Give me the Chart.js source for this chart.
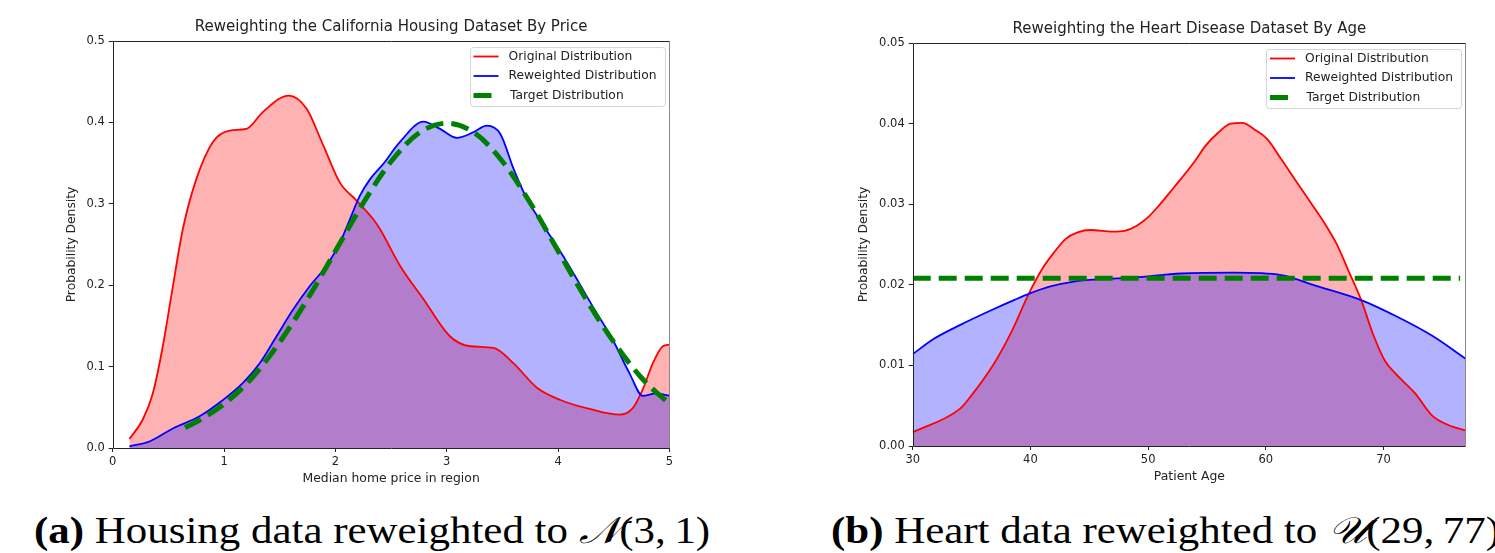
<!DOCTYPE html>
<html><head><meta charset="utf-8">
<script src="https://cdn.jsdelivr.net/npm/chart.js@4.4.0/dist/chart.umd.min.js"></script>
<style>
html,body{margin:0;padding:0;background:#fff;width:1495px;height:553px;overflow:hidden;}
.wrap{position:absolute;top:0;}
.cap{position:absolute;font-family:'Liberation Serif','DejaVu Serif',serif;font-size:37px;line-height:37px;white-space:nowrap;color:#000;transform:scaleX(1.16);transform-origin:0 0;}
.cal{font-style:italic;}
</style></head><body>
<div class="wrap" style="left:0;width:750px;height:500px"><canvas id="c1" width="750" height="500"></canvas></div>
<div class="wrap" style="left:750px;width:745px;height:500px"><canvas id="c2" width="745" height="500"></canvas></div>
<div class="cap" id="capA" style="left:34px;top:512px"><b>(a)</b> Housing data reweighted to <span class="cal">𝒩</span>(3,&#8201;1)</div>
<div class="cap" id="capB" style="left:831px;top:512px"><b>(b)</b> Heart data reweighted to <span class="cal">𝒰</span>(29,&#8201;77)</div>
<script>
// ---------- Housing (left) ----------
const housingTitle = 'Reweighting the California Housing Dataset By Price';
const housingXLabel = 'Median home price in region';
const housingTicksX = [0, 1, 2, 3, 4, 5];
const housingTickLabelsX = ['0', '1', '2', '3', '4', '5'];
const housingTicksY = [0, 0.1, 0.2, 0.3, 0.4, 0.5];
const housingTickLabelsY = ['0.0', '0.1', '0.2', '0.3', '0.4', '0.5'];
const housingOrigX = [0.15,0.27,0.36,0.45,0.53,0.63,0.75,0.90,1.05,1.20,1.35,1.58,1.74,1.89,2.04,2.19,2.34,2.40,2.58,2.79,3.03,3.21,3.42,3.60,3.81,4.02,4.31,4.55,4.67,4.76,4.85,4.94,5.0];
const housingOrigY = [0.011,0.035,0.067,0.125,0.19,0.269,0.330,0.376,0.390,0.392,0.413,0.433,0.417,0.372,0.326,0.304,0.281,0.269,0.224,0.183,0.137,0.125,0.123,0.104,0.074,0.059,0.047,0.041,0.049,0.072,0.104,0.125,0.127];
const housingReX = [0.15,0.33,0.54,0.78,0.99,1.17,1.32,1.47,1.62,1.77,1.92,2.04,2.13,2.22,2.31,2.43,2.58,2.79,2.94,3.09,3.24,3.36,3.48,3.60,3.72,3.87,4.08,4.31,4.49,4.64,4.76,4.88,5.0];
const housingReY = [0.002,0.008,0.024,0.039,0.059,0.080,0.104,0.137,0.170,0.199,0.224,0.252,0.281,0.310,0.330,0.349,0.376,0.401,0.392,0.381,0.388,0.396,0.386,0.343,0.306,0.273,0.228,0.174,0.133,0.092,0.064,0.067,0.064];
const housingTargetX = [0.65,0.75,1.0,1.25,1.5,1.75,2.0,2.25,2.5,2.75,3.0,3.25,3.5,3.75,4.0,4.25,4.5,4.75,5.0];
const housingTargetY = [0.025,0.032,0.054,0.086,0.130,0.183,0.242,0.301,0.352,0.387,0.399,0.387,0.352,0.301,0.242,0.183,0.130,0.086,0.054];

// ---------- Heart (right) ----------
const heartTitle = 'Reweighting the Heart Disease Dataset By Age';
const heartXLabel = 'Patient Age';
const heartTicksX = [30, 40, 50, 60, 70];
const heartTickLabelsX = ['30', '40', '50', '60', '70'];
const heartTicksY = [0, 0.01, 0.02, 0.03, 0.04, 0.05];
const heartTickLabelsY = ['0.00', '0.01', '0.02', '0.03', '0.04', '0.05'];
const heartOrigX = [30,34.0,34.9,36.9,38.3,39.9,41.1,42.0,43.0,44.0,45.1,47.0,48.0,49.0,50.0,50.9,52.2,53.9,54.9,55.9,57.0,58.0,59.0,60.1,61.3,62.45,63.9,65.0,66.0,67.0,68.1,69.1,70.1,71.0,72.7,74.1,75.5,77];
const heartOrigY = [0.0017,0.0046,0.0061,0.0102,0.0139,0.0190,0.0222,0.0240,0.0257,0.0265,0.0268,0.0266,0.0267,0.0273,0.0284,0.0298,0.0321,0.0352,0.0373,0.0388,0.0400,0.0401,0.0393,0.0381,0.0356,0.0331,0.0300,0.0276,0.0251,0.0218,0.0181,0.0139,0.0106,0.0090,0.0065,0.0038,0.0026,0.0019];
const heartReX = [30,31.8,34.0,36.9,38.6,39.9,41.7,43.7,46.0,48.8,52.8,57.3,61.3,64.2,68.1,71.2,74.1,77];
const heartReY = [0.0114,0.0133,0.0150,0.0170,0.0181,0.0189,0.0198,0.0204,0.0207,0.0209,0.0214,0.0215,0.0212,0.0199,0.0181,0.0160,0.0137,0.0108];
const heartTargetX = [30, 76.5];
const heartTargetY = [0.0208, 0.0208];

const seriesLabels = ['Original Distribution', 'Reweighted Distribution', 'Target Distribution'];
const yLabel = 'Probability Density';

const SANS = "'DejaVu Sans',sans-serif";

const pts = (xs, ys) => xs.map((x, i) => ({x: x, y: ys[i]}));

const frame = {
  id: 'frame',
  afterDatasetsDraw(chart) {
    const a = chart.chartArea, ctx = chart.ctx;
    const l = Math.round(a.left) + 0.5, r = Math.round(a.right) - 0.5, t = Math.round(a.top) + 0.5, b = Math.round(a.bottom) + 0.5;
    ctx.save();
    ctx.lineWidth = 1;
    ctx.strokeStyle = '#888';
    ctx.beginPath(); ctx.moveTo(r, t); ctx.lineTo(r, b); ctx.stroke();
    ctx.strokeStyle = '#222';
    ctx.beginPath(); ctx.moveTo(r, t); ctx.lineTo(l, t); ctx.lineTo(l, b); ctx.lineTo(r, b); ctx.stroke();
    ctx.restore();
  }
};

const boxLegend = {
  id: 'boxLegend',
  afterDraw(chart, args, o) {
    const ctx = chart.ctx, a = chart.chartArea;
    const left = a.right - o.right - o.w, top = a.top + o.top;
    ctx.save();
    ctx.beginPath();
    ctx.roundRect(Math.round(left) + 0.5, Math.round(top) + 0.5, o.w, o.h, 3);
    ctx.fillStyle = 'rgba(255,255,255,0.85)'; ctx.fill();
    ctx.strokeStyle = '#d6d6d6'; ctx.lineWidth = 1; ctx.stroke();
    chart.data.datasets.forEach((ds, i) => {
      const y = top + o.row0 + i * o.rowH;
      ctx.beginPath();
      ctx.setLineDash(ds.borderDash || []);
      ctx.lineWidth = ds.borderWidth; ctx.strokeStyle = ds.borderColor; ctx.lineCap = 'butt';
      ctx.moveTo(left + o.lx0, y); ctx.lineTo(left + o.lx1, y); ctx.stroke();
      ctx.setLineDash([]);
      ctx.fillStyle = '#222'; ctx.font = o.font; ctx.textBaseline = 'middle'; ctx.textAlign = 'left';
      ctx.fillText(ds.label, left + o.tx + (ds.borderDash ? 1.5 : 0), y);
    });
    ctx.restore();
  }
};

function makeChart(id, cfg) {
  const datasets = [
    {label: seriesLabels[0], data: pts(cfg.ox, cfg.oy), borderColor: '#ff0000', backgroundColor: 'rgba(255,0,0,0.3)', fill: 'origin', borderWidth: 1.8, order: 3},
    {label: seriesLabels[1], data: pts(cfg.rx, cfg.ry), borderColor: '#0000ff', backgroundColor: 'rgba(0,0,255,0.3)', fill: 'origin', borderWidth: 1.8, order: 2},
    {label: seriesLabels[2], data: pts(cfg.tx, cfg.ty), borderColor: '#008000', backgroundColor: 'rgba(0,0,0,0)', fill: false, borderWidth: 5, borderDash: [18, 8], order: 1}
  ];
  datasets.forEach(d => { d.pointRadius = 0; d.cubicInterpolationMode = 'monotone'; });
  return new Chart(document.getElementById(id), {
    type: 'line',
    data: {datasets: datasets},
    plugins: [frame, boxLegend],
    options: {
      responsive: false, animation: false, events: [],
      layout: {padding: {left: 0, right: cfg.padRight, top: 0, bottom: 0}},
      plugins: {
        legend: {display: false}, tooltip: {enabled: false},
        filler: {drawTime: 'beforeDatasetsDraw'},
        title: {display: true, text: cfg.title, fullSize: false, color: '#222',
          font: {family: SANS, size: 15, weight: 'normal', lineHeight: 1.2},
          padding: {top: cfg.titleTop, bottom: cfg.plotTop - cfg.titleTop - 18}},
        boxLegend: {w: 195, h: 59, right: 5, top: 6.3, row0: 9.2, rowH: 19.5, lx0: 4, lx1: 29, tx: 39, font: '12.3px ' + SANS}
      },
      scales: {
        x: {type: 'linear', min: cfg.xmin, max: cfg.xmax,
          afterFit: s => { s.height = cfg.xAxisH; },
          afterBuildTicks: s => { s.ticks = cfg.ticksX.map(v => ({value: v})); },
          ticks: {color: '#222', padding: 3, maxRotation: 0, autoSkip: false, font: {family: SANS, size: 11.5},
            callback: (v, i) => cfg.labelsX[i]},
          grid: {display: true, drawOnChartArea: false, drawTicks: true, tickLength: 4, color: '#222'},
          border: {display: false},
          title: {display: true, text: cfg.xlabel, color: '#222', font: {family: SANS, size: 12.4, lineHeight: 1.2}, padding: {top: 0, bottom: cfg.xTitleBottom}}
        },
        y: {type: 'linear', min: 0, max: cfg.ymax,
          afterFit: s => { s.width = cfg.yAxisW; },
          afterBuildTicks: s => { s.ticks = cfg.ticksY.map(v => ({value: v})); },
          ticks: {color: '#222', padding: 4, autoSkip: false, font: {family: SANS, size: 11.5},
            callback: (v, i) => cfg.labelsY[i]},
          grid: {display: true, drawOnChartArea: false, drawTicks: true, tickLength: 4, color: '#222'},
          border: {display: false},
          title: {display: true, text: yLabel, color: '#222', font: {family: SANS, size: 12.3, lineHeight: 1.2}, padding: {top: cfg.yTitleTop, bottom: 0}}
        }
      }
    }
  });
}

makeChart('c1', {
  title: housingTitle, xlabel: housingXLabel,
  ox: housingOrigX, oy: housingOrigY, rx: housingReX, ry: housingReY, tx: housingTargetX, ty: housingTargetY,
  xmin: 0, xmax: 5, ymax: 0.5, ticksX: housingTicksX, labelsX: housingTickLabelsX, ticksY: housingTicksY, labelsY: housingTickLabelsY,
  padRight: 80.5, yAxisW: 112.7, xAxisH: 52, titleTop: 18, plotTop: 41, xTitleBottom: 13.6, yTitleTop: 64.2
});
makeChart('c2', {
  title: heartTitle, xlabel: heartXLabel,
  ox: heartOrigX, oy: heartOrigY, rx: heartReX, ry: heartReY, tx: heartTargetX, ty: heartTargetY,
  xmin: 30, xmax: 77, ymax: 0.05, ticksX: heartTicksX, labelsX: heartTickLabelsX, ticksY: heartTicksY, labelsY: heartTickLabelsY,
  padRight: 29, yAxisW: 162.7, xAxisH: 54, titleTop: 20.5, plotTop: 43, xTitleBottom: 15.6, yTitleTop: 106.6
});
</script>
</body></html>
